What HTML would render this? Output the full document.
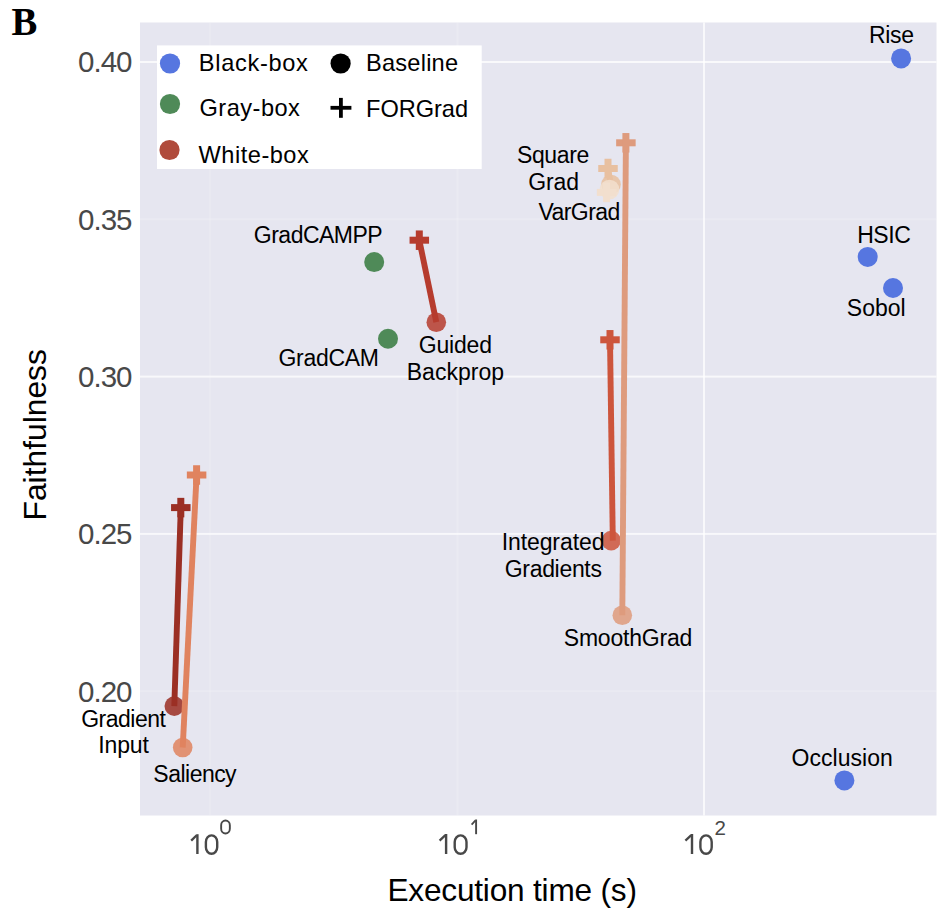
<!DOCTYPE html>
<html><head><meta charset="utf-8"><style>
html,body{margin:0;padding:0;background:#fff;width:949px;height:910px;overflow:hidden}
svg{display:block}
</style></head><body>
<svg width="949" height="910" viewBox="0 0 949 910">
<rect x="0" y="0" width="949" height="910" fill="#fff"/>
<rect x="140" y="22.5" width="796.5" height="793.0" fill="#E6E6F0"/>
<rect x="140" y="61.00" width="796.5" height="2" fill="#fff" opacity="0.75"/>
<rect x="140" y="218.30" width="796.5" height="2" fill="#fff" opacity="0.18"/>
<rect x="140" y="375.60" width="796.5" height="2" fill="#fff" opacity="0.72"/>
<rect x="140" y="532.90" width="796.5" height="2" fill="#fff" opacity="0.72"/>
<rect x="140" y="690.20" width="796.5" height="2" fill="#fff" opacity="0.18"/>
<rect x="209.00" y="22.5" width="2" height="793.0" fill="#fff" opacity="0.12"/>
<rect x="456.50" y="22.5" width="2" height="793.0" fill="#fff" opacity="0.18"/>
<rect x="703.00" y="22.5" width="2" height="793.0" fill="#fff" opacity="0.72"/>
<text x="78.12" y="72.47" font-size="29.50" fill="#484848" font-family='"Liberation Sans", sans-serif' font-weight="normal" textLength="54.40" lengthAdjust="spacing">0.40</text>
<text x="78.12" y="229.77" font-size="29.50" fill="#484848" font-family='"Liberation Sans", sans-serif' font-weight="normal" textLength="54.40" lengthAdjust="spacing">0.35</text>
<text x="78.12" y="387.07" font-size="29.50" fill="#484848" font-family='"Liberation Sans", sans-serif' font-weight="normal" textLength="54.40" lengthAdjust="spacing">0.30</text>
<text x="78.12" y="544.37" font-size="29.50" fill="#484848" font-family='"Liberation Sans", sans-serif' font-weight="normal" textLength="54.40" lengthAdjust="spacing">0.25</text>
<text x="78.12" y="701.67" font-size="29.50" fill="#484848" font-family='"Liberation Sans", sans-serif' font-weight="normal" textLength="54.40" lengthAdjust="spacing">0.20</text>
<rect x="196.20" y="834.20" width="2.4" height="19.80" fill="#484848"/>
<line x1="196.68" y1="835.28" x2="191.20" y2="840.60" stroke="#484848" stroke-width="2.28"/>
<rect x="205.90" y="835.40" width="11.30" height="18.40" rx="5.65" ry="6.62" fill="none" stroke="#484848" stroke-width="2.4"/>
<rect x="221.15" y="820.45" width="8.70" height="13.10" rx="4.35" ry="4.72" fill="none" stroke="#484848" stroke-width="1.9"/>
<rect x="444.90" y="834.00" width="2.4" height="20.00" fill="#484848"/>
<line x1="445.38" y1="835.08" x2="439.60" y2="840.60" stroke="#484848" stroke-width="2.28"/>
<rect x="454.70" y="835.40" width="11.80" height="18.40" rx="5.90" ry="6.62" fill="none" stroke="#484848" stroke-width="2.4"/>
<rect x="475.15" y="819.50" width="1.9" height="14.70" fill="#484848"/>
<line x1="475.53" y1="820.36" x2="471.60" y2="824.60" stroke="#484848" stroke-width="1.80"/>
<rect x="690.80" y="834.00" width="2.4" height="20.00" fill="#484848"/>
<line x1="691.28" y1="835.08" x2="685.40" y2="840.60" stroke="#484848" stroke-width="2.28"/>
<rect x="700.40" y="835.40" width="11.30" height="18.40" rx="5.65" ry="6.62" fill="none" stroke="#484848" stroke-width="2.4"/>
<text x="714.58" y="834.60" font-size="20.50" fill="#484848" font-family='"Liberation Sans", sans-serif' font-weight="normal" textLength="11.77" lengthAdjust="spacing">2</text>
<text x="387.47" y="901.20" font-size="31.60" fill="#000" font-family='"Liberation Sans", sans-serif' font-weight="normal" textLength="249.51" lengthAdjust="spacing">Execution time (s)</text>
<text transform="translate(46,520.54) rotate(-90)" x="0" y="0" font-size="31.8" fill="#000" font-family='"Liberation Sans", sans-serif'>Faithfulness</text>
<text transform="translate(11.42,34.8) scale(0.953,1)" font-size="40.61" fill="#000" font-family='"Liberation Serif", serif' font-weight="bold">B</text>
<rect x="157" y="45.4" width="324.7" height="123.6" fill="#fff"/>
<circle cx="170" cy="63.5" r="10.1" fill="#5676E0"/>
<circle cx="170" cy="104" r="10.1" fill="#4F8A58"/>
<circle cx="169.5" cy="150" r="10.1" fill="#B04B3C"/>
<circle cx="340.6" cy="63.5" r="10.1" fill="#000"/>
<rect x="330.5" y="105.9" width="20.9" height="3.8" fill="#000"/>
<rect x="339" y="97.9" width="3.8" height="19.9" fill="#000"/>
<text x="198.81" y="70.50" font-size="23.60" fill="#000" font-family='"Liberation Sans", sans-serif' font-weight="normal" textLength="109.04" lengthAdjust="spacing">Black-box</text>
<text x="199.52" y="116.10" font-size="23.60" fill="#000" font-family='"Liberation Sans", sans-serif' font-weight="normal" textLength="100.37" lengthAdjust="spacing">Gray-box</text>
<text x="198.58" y="162.70" font-size="23.60" fill="#000" font-family='"Liberation Sans", sans-serif' font-weight="normal" textLength="110.19" lengthAdjust="spacing">White-box</text>
<text x="366.01" y="71.30" font-size="23.60" fill="#000" font-family='"Liberation Sans", sans-serif' font-weight="normal" textLength="92.08" lengthAdjust="spacing">Baseline</text>
<text x="366.01" y="116.80" font-size="23.60" fill="#000" font-family='"Liberation Sans", sans-serif' font-weight="normal" textLength="102.00" lengthAdjust="spacing">FORGrad</text>
<circle cx="901.1" cy="58.4" r="10" fill="#5676E0" opacity="1"/>
<circle cx="867.7" cy="256.9" r="10" fill="#5676E0" opacity="1"/>
<circle cx="893" cy="288" r="10" fill="#5676E0" opacity="1"/>
<circle cx="844.4" cy="780.4" r="10" fill="#5676E0" opacity="1"/>
<circle cx="374.2" cy="262.1" r="10" fill="#4F8A58" opacity="1"/>
<circle cx="388" cy="338.7" r="10" fill="#4F8A58" opacity="1"/>
<circle cx="174.3" cy="706.1" r="9.8" fill="#9B2F24" opacity="0.86"/>
<line x1="174.3" y1="706.1" x2="180.8" y2="507.6" stroke="#9B2F24" stroke-width="5.9"/>
<g opacity="1"><rect x="171.05" y="504.10" width="19.5" height="7" fill="#9B2F24"/><rect x="177.30" y="497.85" width="7" height="19.5" fill="#9B2F24"/></g>
<circle cx="182.7" cy="747.5" r="9.8" fill="#E0835F" opacity="0.86"/>
<line x1="182.7" y1="747.5" x2="196.6" y2="475" stroke="#E0835F" stroke-width="5.9"/>
<g opacity="1"><rect x="186.85" y="471.50" width="19.5" height="7" fill="#E0835F"/><rect x="193.10" y="465.25" width="7" height="19.5" fill="#E0835F"/></g>
<circle cx="436.3" cy="322.2" r="9.8" fill="#B63C2E" opacity="0.86"/>
<line x1="436.3" y1="322.2" x2="419.3" y2="240.2" stroke="#B63C2E" stroke-width="5.9"/>
<g opacity="1"><rect x="409.55" y="236.70" width="19.5" height="7" fill="#B63C2E"/><rect x="415.80" y="230.45" width="7" height="19.5" fill="#B63C2E"/></g>
<circle cx="611.2" cy="540.6" r="9.8" fill="#CD553C" opacity="0.86"/>
<line x1="612.8" y1="540.6" x2="610" y2="339.8" stroke="#CD553C" stroke-width="5.9"/>
<g opacity="1"><rect x="600.25" y="336.30" width="19.5" height="7" fill="#CD553C"/><rect x="606.50" y="330.05" width="7" height="19.5" fill="#CD553C"/></g>
<circle cx="622.3" cy="615.3" r="9.8" fill="#DE9B7D" opacity="0.86"/>
<line x1="622.3" y1="615.3" x2="625.9" y2="142.8" stroke="#DE9B7D" stroke-width="5.9"/>
<g opacity="1"><rect x="616.15" y="139.30" width="19.5" height="7" fill="#DE9B7D"/><rect x="622.40" y="133.05" width="7" height="19.5" fill="#DE9B7D"/></g>
<circle cx="611" cy="184.5" r="9.8" fill="#E8C0A0" opacity="0.86"/>
<line x1="611" y1="184.5" x2="608" y2="168.5" stroke="#E8C0A0" stroke-width="5.9"/>
<g opacity="1"><rect x="598.25" y="165.00" width="19.5" height="7" fill="#E8C0A0"/><rect x="604.50" y="158.75" width="7" height="19.5" fill="#E8C0A0"/></g>
<circle cx="609.5" cy="189.5" r="9.8" fill="#F2DFCE" opacity="0.86"/>
<line x1="609.5" y1="189.5" x2="606.6" y2="192.4" stroke="#F2DFCE" stroke-width="5.9"/>
<g opacity="1"><rect x="596.85" y="188.90" width="19.5" height="7" fill="#F2DFCE"/><rect x="603.10" y="182.65" width="7" height="19.5" fill="#F2DFCE"/></g>
<text x="868.96" y="43.20" font-size="23.00" fill="#000" font-family='"Liberation Sans", sans-serif' font-weight="normal" textLength="45.09" lengthAdjust="spacing">Rise</text>
<text x="857.16" y="242.80" font-size="23.00" fill="#000" font-family='"Liberation Sans", sans-serif' font-weight="normal" textLength="53.66" lengthAdjust="spacing">HSIC</text>
<text x="846.87" y="316.00" font-size="23.00" fill="#000" font-family='"Liberation Sans", sans-serif' font-weight="normal" textLength="58.69" lengthAdjust="spacing">Sobol</text>
<text x="791.57" y="766.00" font-size="23.00" fill="#000" font-family='"Liberation Sans", sans-serif' font-weight="normal" textLength="101.25" lengthAdjust="spacing">Occlusion</text>
<text x="81.15" y="726.50" font-size="23.00" fill="#000" font-family='"Liberation Sans", sans-serif' font-weight="normal" textLength="84.78" lengthAdjust="spacing">Gradient</text>
<text x="98.23" y="753.00" font-size="23.00" fill="#000" font-family='"Liberation Sans", sans-serif' font-weight="normal" textLength="50.68" lengthAdjust="spacing">Input</text>
<text x="153.37" y="782.40" font-size="23.00" fill="#000" font-family='"Liberation Sans", sans-serif' font-weight="normal" textLength="83.25" lengthAdjust="spacing">Saliency</text>
<text x="253.85" y="242.90" font-size="23.00" fill="#000" font-family='"Liberation Sans", sans-serif' font-weight="normal" textLength="128.79" lengthAdjust="spacing">GradCAMPP</text>
<text x="278.45" y="366.10" font-size="23.00" fill="#000" font-family='"Liberation Sans", sans-serif' font-weight="normal" textLength="100.52" lengthAdjust="spacing">GradCAM</text>
<text x="418.85" y="352.50" font-size="23.00" fill="#000" font-family='"Liberation Sans", sans-serif' font-weight="normal" textLength="73.14" lengthAdjust="spacing">Guided</text>
<text x="406.76" y="379.50" font-size="23.00" fill="#000" font-family='"Liberation Sans", sans-serif' font-weight="normal" textLength="97.35" lengthAdjust="spacing">Backprop</text>
<text x="501.63" y="549.90" font-size="23.00" fill="#000" font-family='"Liberation Sans", sans-serif' font-weight="normal" textLength="102.85" lengthAdjust="spacing">Integrated</text>
<text x="504.75" y="577.10" font-size="23.00" fill="#000" font-family='"Liberation Sans", sans-serif' font-weight="normal" textLength="97.17" lengthAdjust="spacing">Gradients</text>
<text x="563.76" y="646.10" font-size="23.00" fill="#000" font-family='"Liberation Sans", sans-serif' font-weight="normal" textLength="128.62" lengthAdjust="spacing">SmoothGrad</text>
<text x="516.97" y="162.50" font-size="23.00" fill="#000" font-family='"Liberation Sans", sans-serif' font-weight="normal" textLength="72.26" lengthAdjust="spacing">Square</text>
<text x="528.35" y="189.70" font-size="23.00" fill="#000" font-family='"Liberation Sans", sans-serif' font-weight="normal" textLength="50.62" lengthAdjust="spacing">Grad</text>
<text x="538.49" y="220.00" font-size="23.00" fill="#000" font-family='"Liberation Sans", sans-serif' font-weight="normal" textLength="81.72" lengthAdjust="spacing">VarGrad</text>
</svg>
</body></html>
